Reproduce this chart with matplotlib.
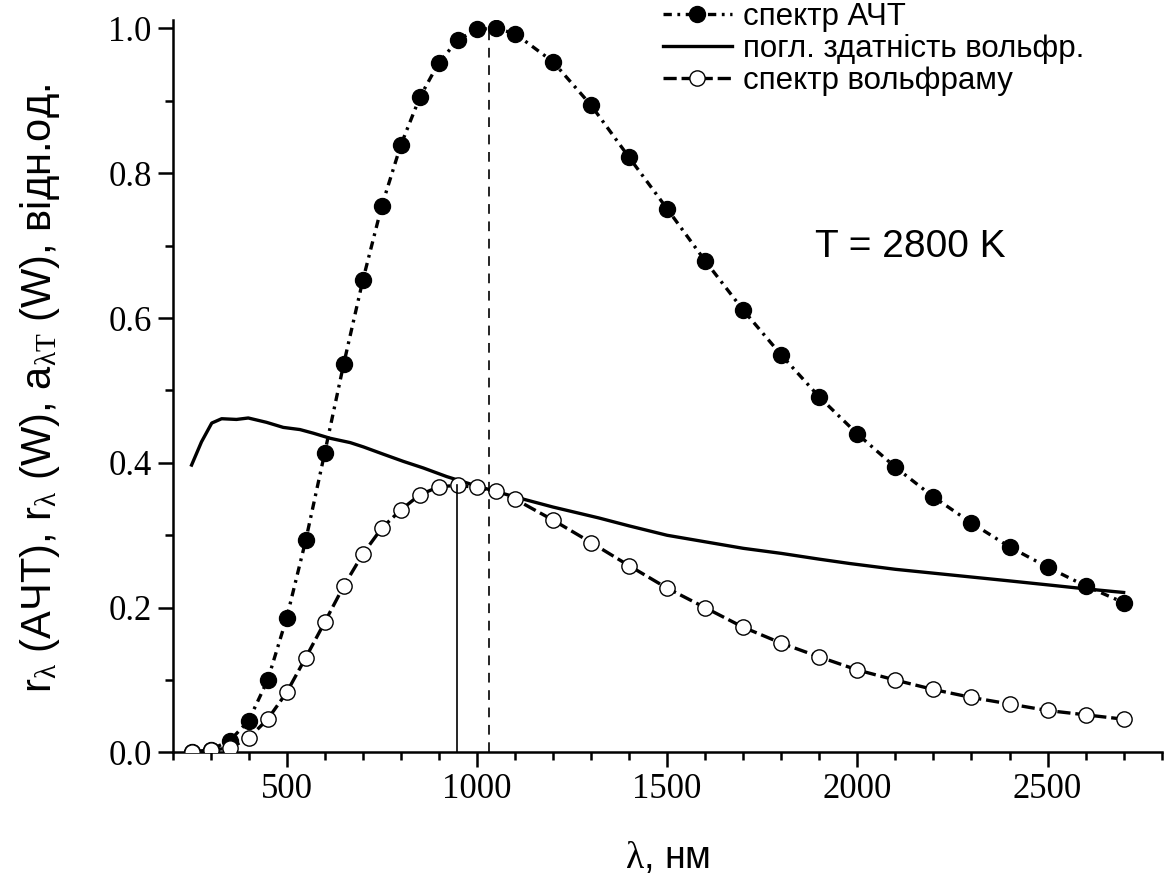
import matplotlib
matplotlib.use("Agg")
import matplotlib.pyplot as plt
from matplotlib.ticker import MultipleLocator, FormatStrFormatter

# спектр АЧТ (чорні точки)
lam_bb = [250, 300, 350, 400, 450, 500, 550, 600, 650, 700, 750, 800, 850, 900, 950,
          1000, 1050, 1100, 1200, 1300, 1400, 1500, 1600, 1700, 1800, 1900, 2000,
          2100, 2200, 2300, 2400, 2500, 2600, 2700]
r_bb = [0.001, 0.004, 0.016, 0.044, 0.100, 0.186, 0.293, 0.414, 0.537, 0.652, 0.755,
        0.839, 0.905, 0.953, 0.984, 0.999, 1.000, 0.993, 0.954, 0.894, 0.822, 0.751,
        0.679, 0.611, 0.549, 0.491, 0.440, 0.394, 0.353, 0.317, 0.284, 0.256, 0.230, 0.207]

# спектр вольфраму (порожні кружки)
lam_w = [250, 300, 350, 400, 450, 500, 550, 600, 650, 700, 750, 800, 850, 900, 950,
         1000, 1050, 1100, 1200, 1300, 1400, 1500, 1600, 1700, 1800, 1900, 2000,
         2100, 2200, 2300, 2400, 2500, 2600, 2700]
r_w = [0.001, 0.0035, 0.006, 0.020, 0.046, 0.083, 0.131, 0.180, 0.230, 0.274, 0.310,
       0.335, 0.356, 0.367, 0.369, 0.366, 0.361, 0.350, 0.321, 0.290, 0.258, 0.227,
       0.200, 0.173, 0.151, 0.132, 0.114, 0.100, 0.087, 0.076, 0.067, 0.058, 0.052, 0.046]

# поглинальна здатність вольфраму
lam_a = [250, 276, 303, 329, 368, 399, 447, 491, 535, 570, 614, 667, 702, 754, 807,
         859, 921, 1000, 1100, 1200, 1320, 1400, 1500, 1600, 1700, 1800, 1900, 1980,
         2100, 2250, 2400, 2510, 2600, 2700]
a_w = [0.397, 0.429, 0.455, 0.461, 0.460, 0.462, 0.456, 0.449, 0.446, 0.441, 0.434,
       0.428, 0.422, 0.412, 0.402, 0.393, 0.381, 0.368, 0.353, 0.339, 0.324, 0.313,
       0.300, 0.291, 0.282, 0.275, 0.267, 0.261, 0.253, 0.245, 0.237, 0.231, 0.226, 0.221]

lam_max_bb = 1032   # положення максимуму АЧТ
lam_max_w = 947     # положення максимуму вольфраму
r_max_w = 0.369

plt.rcParams['lines.scale_dashes'] = False
plt.rcParams['mathtext.fontset'] = 'custom'
plt.rcParams['mathtext.rm'] = 'Liberation Serif'
plt.rcParams['mathtext.it'] = 'Liberation Serif:italic'

fig = plt.figure(figsize=(11.66, 8.76), dpi=100)
ax = fig.add_axes([0.148, 0.141, 0.8483, 0.836])

ax.plot(lam_a, a_w, color='black', lw=2.4, zorder=2.5, label='погл. здатність вольфр.')
ax.plot(lam_bb, r_bb, color='black', lw=2.4, dashes=(6, 4, 2, 4),
        marker='o', ms=11.5, mfc='black', mec='black', zorder=3, label='спектр АЧТ')
ax.plot(lam_w, r_w, color='black', lw=2.4, dashes=(9.5, 3.5),
        marker='o', ms=11, mfc='white', mec='black', mew=1.0, zorder=4,
        label='спектр вольфраму')

ax.plot([lam_max_bb, lam_max_bb], [0, 1.0], color='black', lw=1.2, dashes=(7, 5.5), zorder=5)
ax.plot([lam_max_w, lam_max_w], [0, r_max_w], color='black', lw=1.2, zorder=5)

ax.set_xlim(200, 2800)
ax.set_ylim(0, 1.0115)

for s in ['top', 'right']:
    ax.spines[s].set_visible(False)
for s in ['left', 'bottom']:
    ax.spines[s].set_linewidth(1.8)

ax.xaxis.set_major_locator(MultipleLocator(500))
ax.xaxis.set_minor_locator(MultipleLocator(100))
ax.yaxis.set_major_locator(MultipleLocator(0.2))
ax.yaxis.set_minor_locator(MultipleLocator(0.1))
ax.yaxis.set_major_formatter(FormatStrFormatter('%.1f'))
ax.tick_params(which='major', direction='out', length=11, width=1.8, pad=4)
ax.tick_params(which='minor', direction='out', length=6, width=1.8)
for lab in ax.get_xticklabels() + ax.get_yticklabels():
    lab.set_fontfamily('Liberation Serif')
    lab.set_fontsize(25)

ax.text(2140, 0.698, 'T = 2800 K', fontsize=28, family='Liberation Sans',
        ha='center', va='center')

fig.text(40 / 1166, 0.556,
         'r$_\\mathrm{\\lambda}$ (АЧТ), r$_\\mathrm{\\lambda}$ (W), '
         'a$_\\mathrm{\\lambda T}$ (W), відн.од.',
         rotation=90, ha='center', va='center', fontsize=30, family='Liberation Sans')
fig.text(667 / 1166, 1 - 858 / 876, '$\\mathrm{\\lambda}$, нм', ha='center', va='center',
         fontsize=27, family='Liberation Sans')

h, l = ax.get_legend_handles_labels()
order = [1, 0, 2]
leg = ax.legend([h[i] for i in order], [l[i] for i in order],
                loc='upper left', bbox_to_anchor=(663 / 1166, 1 - 2 / 876),
                bbox_transform=fig.transFigure, frameon=False, numpoints=1,
                prop={'family': 'Liberation Sans', 'size': 22.5},
                handlelength=2.2, handletextpad=0.36, labelspacing=0.06,
                borderpad=0, borderaxespad=0)

fig.savefig('out.png', dpi=100)
